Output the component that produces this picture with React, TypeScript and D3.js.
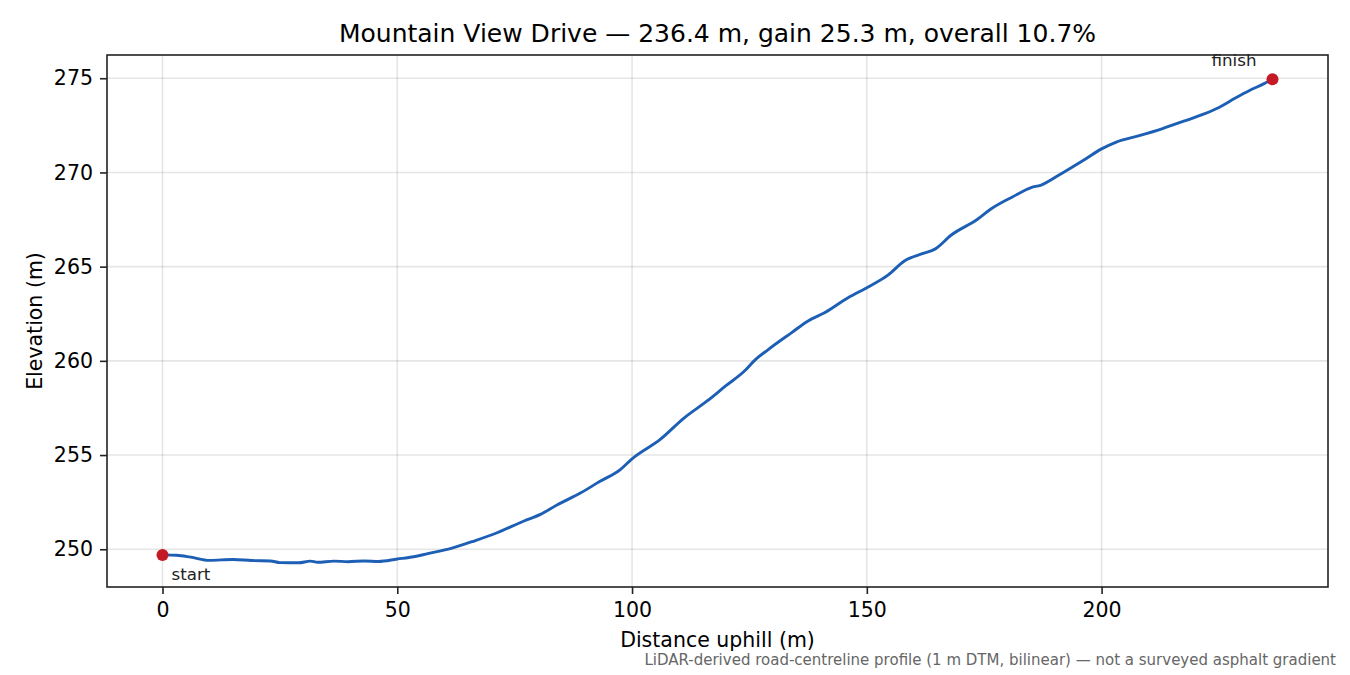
import { useEffect, useRef } from 'react'
import * as d3 from 'd3'

const distances = [
  0, 3, 6, 10, 15, 19, 23, 25, 29, 31.5, 33, 36.5, 39.5, 43, 46, 50, 53.5, 56.5, 61.5, 66.5, 71, 77, 80.5, 84, 89,
  93, 97.5, 100, 106, 111, 116, 120, 124, 126, 129, 134, 137.5, 141, 146, 150.5, 154.5, 158, 162, 164.5, 168, 173.5,
  176.5, 181, 185, 187, 191.5, 196.5, 200, 203, 208, 213, 217.5, 222, 225, 228.5, 231.5, 234.5, 236.4,
]

const elevations = [
  249.7, 249.68, 249.58, 249.41, 249.46, 249.4, 249.38, 249.29, 249.28, 249.37, 249.31, 249.37, 249.34, 249.38, 249.35,
  249.48, 249.6, 249.77, 250.05, 250.45, 250.85, 251.5, 251.85, 252.35, 252.98, 253.58, 254.23, 254.8, 255.83, 256.95,
  257.87, 258.68, 259.47, 260.0, 260.6, 261.5, 262.12, 262.55, 263.35, 263.95, 264.55, 265.3, 265.7, 265.93, 266.68,
  267.5, 268.07, 268.7, 269.2, 269.32, 269.95, 270.7, 271.25, 271.6, 271.95, 272.33, 272.72, 273.12, 273.45, 273.95,
  274.35, 274.7, 274.95,
]

const xTicks = [0, 50, 100, 150, 200]
const yTicks = [250, 255, 260, 265, 270, 275]

const title = 'Mountain View Drive — 236.4 m, gain 25.3 m, overall 10.7%'
const note = 'LiDAR-derived road-centreline profile (1 m DTM, bilinear) — not a surveyed asphalt gradient'

const width = 1350
const height = 675
const font = '"DejaVu Sans", sans-serif'

export default function App() {
  const svgRef = useRef<SVGSVGElement | null>(null)

  useEffect(() => {
    document.body.style.margin = '0'
    const svgElement = svgRef.current
    if (!svgElement) return

    const svg = d3.select(svgElement)
    svg.selectAll('*').remove()

    const margin = { top: 55, right: 22, bottom: 88, left: 107 }
    const innerWidth = width - margin.left - margin.right
    const innerHeight = height - margin.top - margin.bottom

    const points = distances.map((d, i) => ({ x: d, y: elevations[i] }))

    // matplotlib-style 5% margins around the data
    const xExt = d3.extent(distances) as [number, number]
    const yExt = d3.extent(elevations) as [number, number]
    const xPad = (xExt[1] - xExt[0]) * 0.05
    const yPad = (yExt[1] - yExt[0]) * 0.05

    const xScale = d3.scaleLinear().domain([xExt[0] - xPad, xExt[1] + xPad]).range([0, innerWidth])
    const yScale = d3.scaleLinear().domain([yExt[0] - yPad, yExt[1] + yPad]).range([innerHeight, 0])

    svg.append('rect').attr('width', width).attr('height', height).attr('fill', '#fff')

    const g = svg.append('g').attr('transform', `translate(${margin.left},${margin.top})`)

    // grid
    g.append('g')
      .selectAll('line')
      .data(xTicks)
      .join('line')
      .attr('x1', (d) => xScale(d))
      .attr('x2', (d) => xScale(d))
      .attr('y1', 0)
      .attr('y2', innerHeight)
      .attr('stroke', '#000')
      .attr('stroke-opacity', 0.1)
      .attr('stroke-width', 1.6)

    g.append('g')
      .selectAll('line')
      .data(yTicks)
      .join('line')
      .attr('x1', 0)
      .attr('x2', innerWidth)
      .attr('y1', (d) => yScale(d))
      .attr('y2', (d) => yScale(d))
      .attr('stroke', '#000')
      .attr('stroke-opacity', 0.1)
      .attr('stroke-width', 1.6)

    const line = d3
      .line<{ x: number; y: number }>()
      .x((d) => xScale(d.x))
      .y((d) => yScale(d.y))
      .curve(d3.curveMonotoneX)

    g.append('path')
      .datum(points)
      .attr('fill', 'none')
      .attr('stroke', '#1c5fb4')
      .attr('stroke-width', 2.9)
      .attr('stroke-linejoin', 'round')
      .attr('d', line)

    const first = points[0]
    const last = points[points.length - 1]

    g.selectAll('circle.end')
      .data([first, last])
      .join('circle')
      .attr('class', 'end')
      .attr('cx', (d) => xScale(d.x))
      .attr('cy', (d) => yScale(d.y))
      .attr('r', 6)
      .attr('fill', '#c41a26')

    g.append('text')
      .attr('x', xScale(first.x) + 9)
      .attr('y', yScale(first.y) + 25)
      .attr('font-family', font)
      .attr('font-size', '16.7px')
      .attr('fill', '#222')
      .text('start')

    g.append('text')
      .attr('x', xScale(last.x) - 16)
      .attr('y', yScale(last.y) - 13)
      .attr('text-anchor', 'end')
      .attr('font-family', font)
      .attr('font-size', '16.7px')
      .attr('fill', '#222')
      .text('finish')

    // axes
    const xAxis = d3.axisBottom(xScale).tickValues(xTicks).tickSize(7).tickPadding(8.5).tickFormat(d3.format('d'))
    const yAxis = d3.axisLeft(yScale).tickValues(yTicks).tickSize(7).tickPadding(7).tickFormat(d3.format('d'))

    const gx = g.append('g').attr('transform', `translate(0,${innerHeight})`).call(xAxis)
    const gy = g.append('g').call(yAxis)
    for (const ax of [gx, gy]) {
      ax.select('.domain').remove()
      ax.selectAll('line').attr('stroke', '#222').attr('stroke-width', 1.6)
      ax.selectAll('text').attr('font-family', font).attr('font-size', '20.5px').attr('fill', '#000')
    }

    g.append('rect')
      .attr('width', innerWidth)
      .attr('height', innerHeight)
      .attr('fill', 'none')
      .attr('stroke', '#222')
      .attr('stroke-width', 1.6)

    g.append('text')
      .attr('x', innerWidth / 2)
      .attr('y', innerHeight + 59.5)
      .attr('text-anchor', 'middle')
      .attr('font-family', font)
      .attr('font-size', '20.5px')
      .attr('fill', '#000')
      .text('Distance uphill (m)')

    g.append('text')
      .attr('transform', 'rotate(-90)')
      .attr('x', -innerHeight / 2)
      .attr('y', -65)
      .attr('text-anchor', 'middle')
      .attr('font-family', font)
      .attr('font-size', '20.5px')
      .attr('fill', '#000')
      .text('Elevation (m)')

    svg
      .append('text')
      .attr('x', margin.left + innerWidth / 2)
      .attr('y', 42)
      .attr('text-anchor', 'middle')
      .attr('font-family', font)
      .attr('font-size', '25px')
      .attr('fill', '#000')
      .text(title)

    svg
      .append('text')
      .attr('x', 1336)
      .attr('y', 665)
      .attr('text-anchor', 'end')
      .attr('font-family', font)
      .attr('font-size', '15px')
      .attr('fill', '#666')
      .text(note)
  }, [])

  return <svg ref={svgRef} width={width} height={height} style={{ display: 'block' }} />
}
